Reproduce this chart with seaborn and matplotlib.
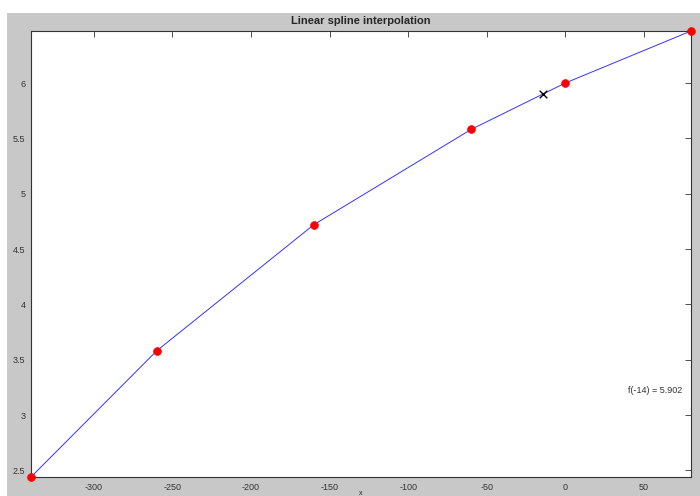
import matplotlib
matplotlib.use("Agg")
import matplotlib.pyplot as plt
from matplotlib.patches import Rectangle
import numpy as np
import pandas as pd
import seaborn as sns

# data
x_nodes = [-340, -260, -160, -60, 0, 80]
y_nodes = [2.44, 3.58, 4.72, 5.58, 6.0, 6.47]
x_query = [-14]
y_query = [5.902]
x_ticks = [-300, -250, -200, -150, -100, -50, 0, 50]
y_ticks = [2.5, 3, 3.5, 4, 4.5, 5, 5.5, 6]
y_tick_labels = ["2.5", "3", "3.5", "4", "4.5", "5", "5.5", "6"]

sns.set_style("white")
plt.rcParams["font.family"] = ["Liberation Sans", "DejaVu Sans"]

df_nodes = pd.DataFrame({"x": x_nodes, "y": y_nodes})
df_query = pd.DataFrame({"x": x_query, "y": y_query})

fig = plt.figure(figsize=(7, 4.96), dpi=100, facecolor="white")
fig.patches.append(Rectangle((7 / 700, 0), 1, 1 - 13 / 496, transform=fig.transFigure,
                             facecolor="#c8c8c8", edgecolor="none", zorder=-10))
ax = fig.add_axes([31 / 700, 19 / 496, 660 / 700, 446 / 496])
ax.set_facecolor("white")

sns.lineplot(data=df_nodes, x="x", y="y", ax=ax, color="#3333ff", linewidth=0.7,
             marker=".", markersize=2, markeredgewidth=0, clip_on=False)
sns.scatterplot(data=df_nodes, x="x", y="y", ax=ax, color="red", s=32, edgecolor="red",
                zorder=5, clip_on=False)
sns.scatterplot(data=df_query, x="x", y="y", ax=ax, marker="x", color="black", s=30,
                linewidth=1.0, zorder=6)

ax.text(40, 3.22, "f(-14) = %.3f" % y_query[0], fontsize=6.5, color="#333333", va="center")

ax.set_xlim(-340, 80)
ax.set_ylim(2.44, 6.47)
ax.set_xticks(x_ticks)
ax.set_xticklabels([str(t) for t in x_ticks])
ax.set_yticks(y_ticks)
ax.set_yticklabels(y_tick_labels)
ax.tick_params(direction="in", length=4, width=0.6, labelsize=6.5, colors="#333333",
               top=True, right=True, pad=4)
for s in ax.spines.values():
    s.set_linewidth(0.8)
    s.set_color("#333333")

ax.set_title("Linear spline interpolation", fontsize=8, fontweight="bold", pad=5)
ax.set_xlabel("x", fontsize=5, labelpad=-1)
ax.set_ylabel("")

fig.savefig("out.png", dpi=100, facecolor=fig.get_facecolor())
